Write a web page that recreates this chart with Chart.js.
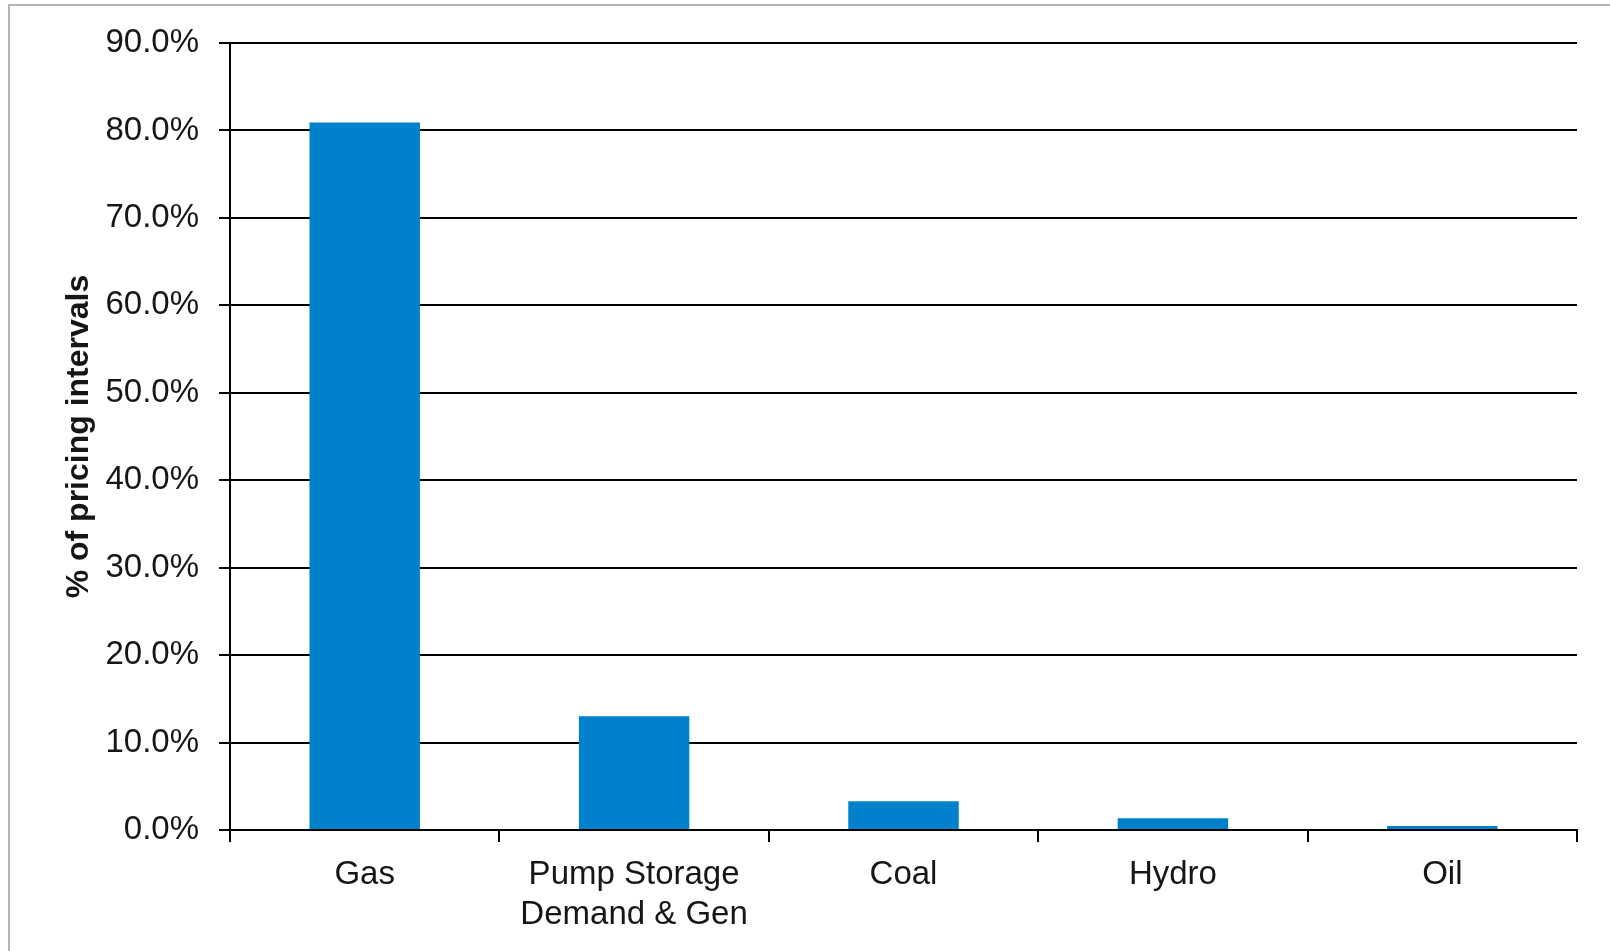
<!DOCTYPE html>
<html lang="en">
<head>
    <meta charset="UTF-8">
    <title>% of pricing intervals by fuel type</title>
    <script src="https://cdn.jsdelivr.net/npm/chart.js"></script>
    <style>
        html, body { margin: 0; padding: 0; background: #fff; overflow: hidden; }
        .frame {
            position: absolute; left: 8px; top: 4px;
            width: 1700px; height: 1100px;
            border: 2px solid #b4b4b4;
        }
        .wrap { position: absolute; left: 0; top: 0; width: 1610px; height: 951px; }
    </style>
</head>
<body>
    <div class="frame"></div>
    <div class="wrap"><canvas id="fuelChart"></canvas></div>
    <script>
        // Dados do gráfico
        const categories = [['Gas'], ['Pump Storage', 'Demand & Gen'], ['Coal'], ['Hydro'], ['Oil']];
        const shares = [80.9, 13.0, 3.3, 1.35, 0.45];
        const yMax = 90;
        const yStep = 10;

        const textColor = '#161616';
        const fontFamily = '"Liberation Sans", Arial, sans-serif';

        const ctx = document.getElementById('fuelChart').getContext('2d');

        new Chart(ctx, {
            type: 'bar',
            data: {
                labels: categories,
                datasets: [{
                    label: '% of pricing intervals',
                    data: shares,
                    backgroundColor: '#0180cc',
                    borderWidth: 0,
                    categoryPercentage: 1,
                    barPercentage: 0.41
                }]
            },
            options: {
                responsive: true,
                maintainAspectRatio: false,
                animation: false,
                layout: { padding: { top: 43, left: 0, right: 33, bottom: 0 } },
                plugins: {
                    legend: { display: false },
                    tooltip: { enabled: false }
                },
                scales: {
                    x: {
                        grid: {
                            display: true,
                            offset: true,
                            drawOnChartArea: false,
                            tickLength: 12,
                            color: '#000',
                            lineWidth: 2
                        },
                        border: { display: true, color: '#000', width: 2 },
                        ticks: {
                            color: textColor,
                            padding: 13,
                            maxRotation: 0,
                            autoSkip: false,
                            font: { family: fontFamily, size: 33, lineHeight: 1.21 }
                        },
                        afterFit: scale => { scale.height = 121; }
                    },
                    y: {
                        min: 0,
                        max: yMax,
                        grid: {
                            color: '#000',
                            lineWidth: 2,
                            tickLength: 11
                        },
                        border: { display: true, color: '#000', width: 2 },
                        ticks: {
                            stepSize: yStep,
                            color: textColor,
                            padding: 20,
                            font: { family: fontFamily, size: 33 },
                            callback: value => value.toFixed(1) + '%'
                        },
                        title: {
                            display: true,
                            text: '% of pricing intervals',
                            color: textColor,
                            padding: { top: 60, bottom: 0 },
                            font: { family: fontFamily, size: 32, weight: 'bold' }
                        },
                        afterFit: scale => { scale.width = 230; }
                    }
                }
            }
        });
    </script>
</body>
</html>
